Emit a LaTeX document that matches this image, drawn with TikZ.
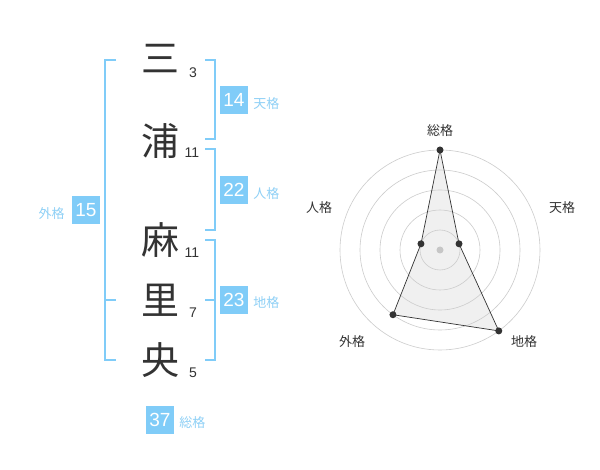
\documentclass[tikz,border=0pt]{standalone}
\usepackage{fontspec}
\setmainfont{Liberation Sans}
\newfontfamily\jp{Noto Sans CJK JP}
\usetikzlibrary{positioning}
\definecolor{kakublue}{HTML}{80CCF8}
\definecolor{kakutext}{HTML}{8ED0F6}
\definecolor{inkgray}{HTML}{333333}
\tikzset{%
  kanji/.style     = {font=\jp\fontsize{38}{38}\selectfont, text=inkgray, inner sep=0pt},%
  strokes/.style   = {font=\fontsize{14}{14}\selectfont, text=inkgray, inner sep=0pt},%
  valbox/.style    = {fill=kakublue, text=white, minimum size=28pt, inner sep=0pt,%
                      font=\fontsize{19}{19}\selectfont},%
  kakulabel/.style = {font=\jp\fontsize{13}{13}\selectfont, text=kakutext, inner sep=0pt},%
  bracket/.style   = {draw=kakublue, line width=2pt},%
  ring/.style      = {draw=gray!40, line width=0.6pt},%
  axislabel/.style = {font=\jp\fontsize{13}{13}\selectfont, text=inkgray, inner sep=0pt},%
  dot/.style       = {circle, fill=inkgray, inner sep=0pt, minimum size=7pt}%
}
\begin{document}
\begin{tikzpicture}[x=1pt, y=-1pt]%
	\fill[white] (0,0) rectangle (600,470);
	\useasboundingbox (0,0) rectangle (600,470);
	% name, one kanji per line
	\node[kanji] (k1) at (160,59) {三};
	\node[kanji] (k2) at (160,141) {浦};
	\node[kanji] (k3) at (160,240) {麻};
	\node[kanji] (k4) at (160,300) {里};
	\node[kanji] (k5) at (160,360) {央};
	\node[strokes] (s1) at (193,73) {3};
	\node[strokes] (s2) at (192,153) {11};
	\node[strokes] (s3) at (192,253) {11};
	\node[strokes] (s4) at (193,313) {7};
	\node[strokes] (s5) at (193,373) {5};
	% brackets
	\draw[bracket] (116,60) -- (105,60) -- (105,360) -- (116,360);
	\draw[bracket] (105,300) -- (116,300);
	\draw[bracket] (205,60) -- (215,60) -- (215,139) -- (205,139);
	\draw[bracket] (205,149) -- (215,149) -- (215,230) -- (205,230);
	\draw[bracket] (205,240) -- (215,240) -- (215,360) -- (205,360);
	\draw[bracket] (205,300) -- (215,300);
	% values
	\node[valbox] (ten) at (234,100) {14};
	\node[valbox] (jin) at (234,190) {22};
	\node[valbox] (chi) at (234,300) {23};
	\node[valbox] (gai) at (86,210) {15};
	\node[valbox] (sou) at (160,420) {37};
	\node[kakulabel, right=5pt of ten, yshift=-4pt] (ten-l) {天格};
	\node[kakulabel, right=5pt of jin, yshift=-4pt] (jin-l) {人格};
	\node[kakulabel, right=5pt of chi, yshift=-3pt] (chi-l) {地格};
	\node[kakulabel, left=7pt of gai, yshift=-4pt] (gai-l) {外格};
	\node[kakulabel, right=5pt of sou, yshift=-3pt] (sou-l) {総格};
	% radar
	\begin{scope}[xshift=440pt, yshift=-250pt, y=1pt]
	\coordinate (r-sou) at (90:100);
	\coordinate (r-ten) at (18:20);
	\coordinate (r-chi) at (-54:100);
	\coordinate (r-gai) at (-126:80);
	\coordinate (r-jin) at (162:20);
		\fill[gray!12] (r-sou) -- (r-ten) -- (r-chi) -- (r-gai) -- (r-jin) -- cycle;
		\foreach \r in {20,40,...,100}
			\draw[ring] (0,0) circle[radius=\r pt];
		\fill[gray!45] (0,0) circle[radius=3.5pt];
		\draw[inkgray, line width=0.7pt] (r-sou) -- (r-ten) -- (r-chi) -- (r-gai) -- (r-jin) -- cycle;
		\node[dot] (d-sou) at (r-sou) {};
		\node[dot] (d-ten) at (r-ten) {};
		\node[dot] (d-chi) at (r-chi) {};
		\node[dot] (d-gai) at (r-gai) {};
		\node[dot] (d-jin) at (r-jin) {};
		\node[axislabel] (a-sou) at (0,119) {総格};
		\node[axislabel] (a-ten) at (122,42) {天格};
		\node[axislabel] (a-chi) at (84,-92) {地格};
		\node[axislabel] (a-gai) at (-88,-92) {外格};
		\node[axislabel] (a-jin) at (-121,42) {人格};
	\end{scope}
\end{tikzpicture}
\end{document}
